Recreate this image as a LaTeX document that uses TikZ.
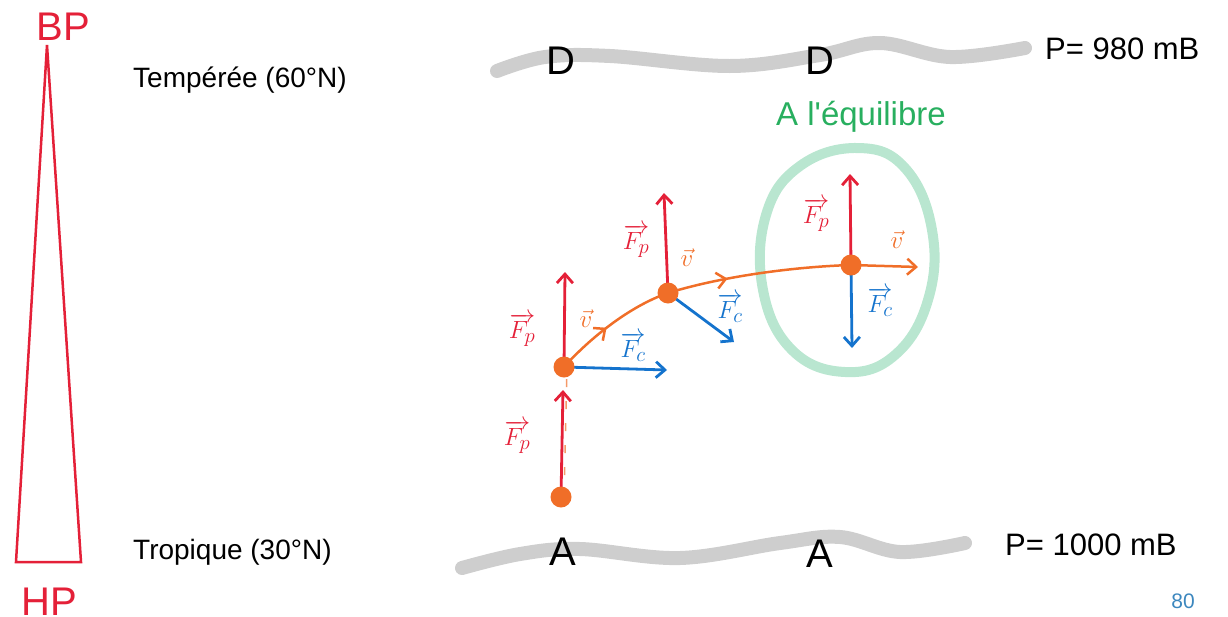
\documentclass[tikz,border=0pt]{standalone}
\usepackage{fontspec}
\setmainfont{Liberation Sans}
\usetikzlibrary{arrows.meta,decorations.markings}
\definecolor{cred}{RGB}{228,32,56}
\definecolor{corange}{RGB}{240,110,40}
\definecolor{cblue}{RGB}{20,115,205}
\definecolor{cgreen}{RGB}{40,175,95}
\definecolor{cgreenl}{RGB}{185,230,208}
\definecolor{cgray}{RGB}{206,206,206}
\definecolor{cnum}{RGB}{60,135,190}
\begin{document}
\begin{tikzpicture}[x=1pt,y=-1pt,
  band/.style={cgray,line width=14pt,line cap=round},
  barb/.style={-{Straight Barb[length=9pt,width=16pt]}},
  force/.style={line width=2.8pt,barb},
  dot/.style={circle,fill=corange,inner sep=0pt,minimum size=21pt},
  lab/.style={font=\fontsize{28}{30}\selectfont,inner sep=0pt},
  vlab/.style={font=\fontsize{26}{28}\selectfont,inner sep=0pt,text=corange},
  lat/.style={font=\fontsize{28}{32}\selectfont,anchor=base west,inner sep=0pt},
  big/.style={font=\fontsize{40}{44}\selectfont,anchor=base,inner sep=0pt},
  press/.style={font=\fontsize{31}{34}\selectfont,anchor=base west,inner sep=0pt}]
\useasboundingbox (0,0) rectangle (1228,616);

% pressure gauge triangle
\draw[cred,line width=2.5pt] (47,45) -- (81,562) -- (16,562) -- cycle;
\node[big,text=cred] (bp) at (63,40) {BP};
\node[big,text=cred] (hp) at (49,615) {HP};

% latitude labels
\node[lat] (temp) at (133,87) {Tempérée (60°N)};
\node[lat] (trop) at (133,559) {Tropique (30°N)};

% bands
\draw[band] plot[smooth,tension=0.6] coordinates {(497,71) (545,57) (610,56) (730,66) (820,55) (880,43) (950,57) (1025,48)};
\draw[band] plot[smooth,tension=0.6] coordinates {(462,568) (520,554) (580,549) (680,558) (780,543) (840,537) (900,552) (965,543)};
\node[big] (d1) at (561,74) {D};
\node[big] (d2) at (820,74) {D};
\node[big] (a1) at (563,565) {A};
\node[big] (a2) at (820,567) {A};

\node[press] (ptop) at (1045,59) {P= 980 mB};
\node[press] (pbot) at (1005,555) {P= 1000 mB};
\node[font=\fontsize{21}{24}\selectfont,text=cnum,inner sep=0pt] (num) at (1183,601) {80};

% equilibrium
\node[font=\fontsize{33}{36}\selectfont,text=cgreen,inner sep=0pt] (eq) at (861,117) {A l\textquotesingle équilibre};
\draw[cgreenl,line width=10pt] plot[smooth cycle,tension=0.7] coordinates {(858,148) (905,168) (932,230) (928,300) (895,355) (845,372) (792,350) (763,290) (766,215) (800,166)};

% positions
\coordinate (p0) at (561,497);
\coordinate (p1) at (564,367);
\coordinate (p2) at (668,293);
\coordinate (p3) at (851,265);
\coordinate (r0) at (563,390);
\coordinate (r1) at (565,272);
\coordinate (r2) at (664,193);
\coordinate (r3) at (850,174);
\coordinate (b1) at (667,370);
\coordinate (b2) at (734,342);
\coordinate (b3) at (852,348);
\coordinate (v3) at (918,267);

% forces
\draw[force,cred] (p0) -- (r0);
\draw[force,cred] (p1) -- (r1);
\draw[force,cred] (p2) -- (r2);
\draw[force,cred] (p3) -- (r3);
\draw[force,cblue] (p1) -- (b1);
\draw[force,cblue] (p2) -- (b2);
\draw[force,cblue] (p3) -- (b3);

% trajectory
\draw[corange,line width=1.5pt,dashed,dash pattern=on 8pt off 14pt,opacity=0.7] ([xshift=3pt]p0) -- ([xshift=3pt]p1);
\draw[corange,line width=2.5pt,postaction={decorate},
  decoration={markings,mark=at position 0.45 with {\arrow{Straight Barb[length=9pt,width=16pt]}}}]
  (p1) .. controls (590,338) and (630,306) .. (p2);
\draw[corange,line width=2.5pt,postaction={decorate},
  decoration={markings,mark=at position 0.33 with {\arrow{Straight Barb[length=9pt,width=16pt]}}}]
  (p2) .. controls (720,277) and (790,267) .. (p3);
\draw[corange,line width=2.5pt,barb] (p3) -- (v3);

% dots
\node[dot] (d0n) at (p0) {};
\node[dot] (d1n) at (p1) {};
\node[dot] (d2n) at (p2) {};
\node[dot] (d3n) at (p3) {};

% labels
\node[lab,text=cred] (fp0) at (517,437) {$\overrightarrow{F_p}$};
\node[lab,text=cred] (fp1) at (522,330) {$\overrightarrow{F_p}$};
\node[lab,text=cred] (fp2) at (636,241) {$\overrightarrow{F_p}$};
\node[lab,text=cred] (fp3) at (816,215) {$\overrightarrow{F_p}$};
\node[lab,text=cblue] (fc1) at (633,347) {$\overrightarrow{F_c}$};
\node[lab,text=cblue] (fc2) at (730,308) {$\overrightarrow{F_c}$};
\node[lab,text=cblue] (fc3) at (880,302) {$\overrightarrow{F_c}$};
\node[vlab] (vv1) at (586,319) {$\vec{v}$};
\node[vlab] (vv2) at (687,258) {$\vec{v}$};
\node[vlab] (vv3) at (897,240) {$\vec{v}$};
\end{tikzpicture}
\end{document}
